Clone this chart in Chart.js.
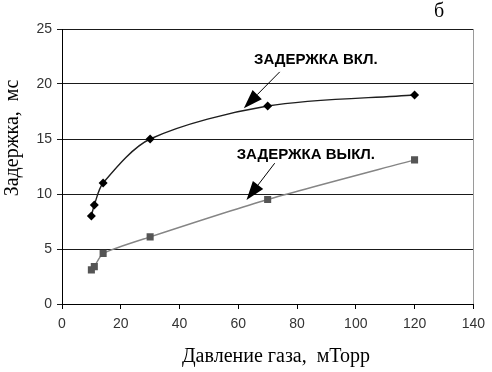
<!DOCTYPE html>
<html><head><meta charset="utf-8">
<script src="https://cdn.jsdelivr.net/npm/chart.js@4/dist/chart.umd.min.js"></script>
<style>html,body{margin:0;padding:0;background:#fff}#wrap{width:492px;height:372px;position:relative}</style>
</head><body><div id="wrap"><canvas id="c" width="492" height="372"></canvas></div>
<script>
// ---- data ----
const pressureOn = [10, 11, 14, 30, 70, 120];
const delayOn = [8, 9, 11, 15, 18, 19];
const pressureOff = [10, 11, 14, 30, 70, 120];
const delayOff = [3.1, 3.4, 4.6, 6.1, 9.5, 13.1];
const xTicks = [0, 20, 40, 60, 80, 100, 120, 140];
const yTicks = [0, 5, 10, 15, 20, 25];
const seriesNames = ['ЗАДЕРЖКА ВКЛ.', 'ЗАДЕРЖКА ВЫКЛ.'];
const xTitle = 'Давление газа,  мТорр';
const yTitle = 'Задержка,  мс';
const panelLabel = 'б';

// annotation placement (in data units)
const notes = [
  {text: seriesNames[0], x: 86.4, y: 22.2, from: [74.1, 21.1], to: [61.9, 17.8]},
  {text: seriesNames[1], x: 83.0, y: 13.6, from: [72.4, 12.8], to: [62.8, 9.45]}
];

const SERIF = '"Liberation Serif", "Times New Roman", serif';
const SANS = '"Liberation Sans", Arial, sans-serif';

const deco = {
  id: 'deco',
  afterDraw(chart) {
    const {ctx, chartArea: a, scales: {x, y}} = chart;
    ctx.save();
    // right border of plot area
    ctx.strokeStyle = '#9a9a9a';
    ctx.lineWidth = 1;
    ctx.beginPath();
    ctx.moveTo(Math.round(a.right) + 0.5, a.top);
    ctx.lineTo(Math.round(a.right) + 0.5, a.bottom);
    ctx.stroke();
    // annotations
    ctx.fillStyle = '#000';
    ctx.strokeStyle = '#000';
    ctx.font = 'bold 15px ' + SANS;
    ctx.textAlign = 'center';
    ctx.textBaseline = 'middle';
    notes.forEach(n => {
      ctx.fillText(n.text, x.getPixelForValue(n.x), y.getPixelForValue(n.y));
      const x0 = x.getPixelForValue(n.from[0]), y0 = y.getPixelForValue(n.from[1]);
      const x1 = x.getPixelForValue(n.to[0]), y1 = y.getPixelForValue(n.to[1]);
      const ang = Math.atan2(y1 - y0, x1 - x0);
      const L = 19, W = 6.5;
      const bx = x1 - L * Math.cos(ang), by = y1 - L * Math.sin(ang);
      ctx.lineWidth = 1;
      ctx.beginPath(); ctx.moveTo(x0, y0); ctx.lineTo(bx, by); ctx.stroke();
      ctx.beginPath();
      ctx.moveTo(x1, y1);
      ctx.lineTo(bx + W * Math.sin(ang), by - W * Math.cos(ang));
      ctx.lineTo(bx - W * Math.sin(ang), by + W * Math.cos(ang));
      ctx.closePath(); ctx.fill();
    });
    // titles
    ctx.font = '20px ' + SERIF;
    ctx.fillText(xTitle, 276, 357);
    ctx.fillText(panelLabel, 439, 12);
    ctx.save();
    ctx.translate(13, 138);
    ctx.rotate(-Math.PI / 2);
    ctx.fillText(yTitle, 0, 0);
    ctx.restore();
    ctx.restore();
  }
};

new Chart(document.getElementById('c'), {
  type: 'scatter',
  data: {
    datasets: [
      {
        label: seriesNames[0],
        data: pressureOn.map((p, i) => ({x: p, y: delayOn[i]})),
        showLine: true,
        tension: 0.3,
        borderColor: '#1e1e1e',
        borderWidth: 1.4,
        pointStyle: 'rectRot',
        pointRadius: 4.5,
        pointBackgroundColor: '#000',
        pointBorderColor: '#000',
        pointBorderWidth: 0
      },
      {
        label: seriesNames[1],
        data: pressureOff.map((p, i) => ({x: p, y: delayOff[i]})),
        showLine: true,
        tension: 0.2,
        borderColor: '#858585',
        borderWidth: 1.4,
        pointStyle: 'rect',
        pointRadius: 5,
        pointBackgroundColor: '#555',
        pointBorderColor: '#555',
        pointBorderWidth: 0
      }
    ]
  },
  options: {
    responsive: false,
    animation: false,
    devicePixelRatio: 1,
    layout: {padding: {top: 29, right: 18, left: 0, bottom: 0}},
    plugins: {legend: {display: false}, tooltip: {enabled: false}},
    scales: {
      x: {
        type: 'linear', min: 0, max: 140,
        afterBuildTicks: s => { s.ticks = xTicks.map(v => ({value: v})); },
        afterFit: s => { s.height = 68; },
        border: {color: '#000', width: 1},
        grid: {drawOnChartArea: false, drawTicks: true, tickLength: 5, color: '#000'},
        ticks: {color: '#333', font: {family: SANS, size: 14}, padding: 7, maxRotation: 0}
      },
      y: {
        type: 'linear', min: 0, max: 25,
        afterBuildTicks: s => { s.ticks = yTicks.map(v => ({value: v})); },
        afterFit: s => { s.width = 62; },
        border: {color: '#000', width: 1},
        grid: {drawTicks: true, tickLength: 5, color: '#1a1a1a', lineWidth: 1},
        ticks: {color: '#333', font: {family: SANS, size: 14}, padding: 5}
      }
    }
  },
  plugins: [deco]
});
</script>
</body></html>
